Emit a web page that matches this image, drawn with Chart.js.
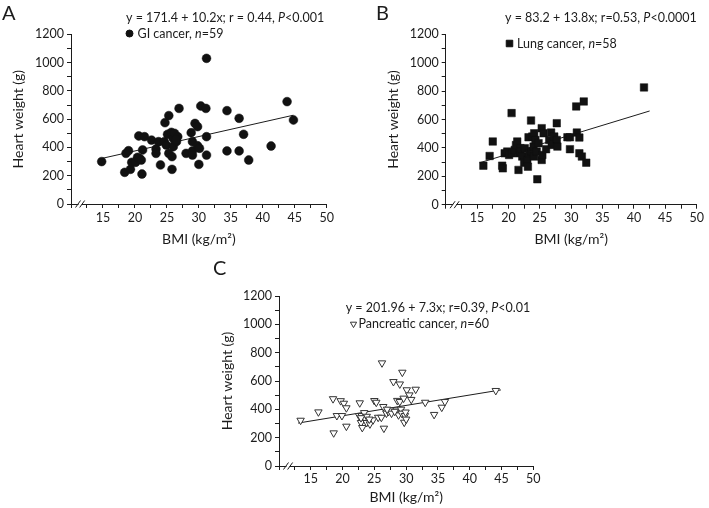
<!DOCTYPE html>
<html><head><meta charset="utf-8">
<script src="https://cdn.jsdelivr.net/npm/chart.js@4.4.0/dist/chart.umd.min.js"></script>
<style>
html,body{margin:0;padding:0;background:#fff;}
body{width:709px;height:508px;position:relative;overflow:hidden;}
canvas{position:absolute;}
</style></head><body>
<canvas id="cA" width="354" height="250" style="left:0;top:0"></canvas>
<canvas id="cB" width="355" height="250" style="left:354px;top:0"></canvas>
<canvas id="cC" width="360" height="258" style="left:200px;top:250px"></canvas>
<script>
// ---------- data (BMI in kg/m2, heart weight in g) ----------
const giBMI = [14.8,18.4,18.6,19.0,19.3,19.5,20.1,20.4,20.7,21.0,21.1,21.2,20.6,21.5,22.6,23.3,23.3,23.7,24.0,24.6,24.7,24.9,25.1,25.3,25.3,25.7,25.8,25.8,26.0,26.0,26.2,26.5,26.7,26.4,26.9,28.0,28.8,29.0,29.0,29.0,29.4,29.8,29.8,30.1,30.0,30.3,31.1,31.2,31.2,31.2,34.4,34.4,36.3,36.3,37.0,37.8,41.3,43.8,44.8];
const giHW  = [300,224,358,377,245,295,295,330,322,311,212,382,481,476,452,389,358,441,276,441,575,417,493,625,358,507,335,245,405,464,500,441,476,455,676,358,504,441,375,346,570,547,412,394,280,693,676,1030,476,346,660,375,606,375,493,311,410,724,594];
const giFitX = [14.8,44.8];
const giFitY = [322,628];

const lungBMI = [16.0,17.0,17.5,19.0,19.1,19.4,19.8,20.5,20.1,20.6,21.0,21.2,21.4,21.6,21.8,21.9,22.0,22.2,22.5,22.6,23.0,23.1,23.3,23.2,23.6,23.7,23.8,24.0,24.1,24.1,24.3,24.5,24.6,24.8,25.3,25.3,25.4,25.6,26.0,26.5,26.8,26.9,27.1,27.3,27.7,27.7,27.8,29.4,29.8,29.8,30.8,30.9,31.3,31.3,31.7,32.0,32.4,41.6];
const lungHW  = [275,343,445,275,256,362,374,645,350,362,386,420,445,245,362,398,375,339,296,398,315,268,362,475,593,374,480,409,503,339,455,374,179,433,539,315,350,503,391,456,508,421,438,480,574,456,409,475,475,391,692,508,473,362,339,727,296,826];
const lungFitX = [15.4,42.5];
const lungFitY = [295,660];

const pancBMI = [13.4,16.2,18.5,18.6,19.1,19.9,19.7,20.2,20.6,20.6,22.7,22.6,23.0,23.1,22.9,23.1,23.4,23.5,23.8,24.3,24.8,25.0,25.3,25.6,26.1,26.2,26.4,26.5,26.9,27.2,27.6,27.7,28.0,28.5,28.6,28.8,29.0,29.0,29.2,29.3,29.4,29.6,29.8,29.7,30.1,30.5,30.8,31.5,33.0,34.4,35.6,36.1,44.1,23.8,24.2,27.0,28.2,29.9,22.9,30.0];
const pancHW  = [322,381,474,233,355,355,460,442,410,280,445,355,355,325,306,271,376,336,306,296,325,461,449,343,343,727,419,266,372,384,395,372,595,395,462,360,578,454,400,372,661,478,355,308,537,501,469,541,449,363,414,454,532,350,330,400,385,380,340,330];
const pancFitX = [13.0,44.9];
const pancFitY = [303,537];

const xTickStep = 2.5, xMin = 10, xMax = 50;
const yTickStep = 100, yMin = 0, yMax = 1200;
const xTitle = 'BMI (kg/m²)';
const yTitle = 'Heart weight (g)';

// ---------- helpers ----------
const FONT = 'Lato, "Open Sans", sans-serif';
const INK = '#1c1c1c';
function pts(xs, ys){ return xs.map((x,i)=>({x:x, y:ys[i]})); }

function drawParts(ctx, parts, x, y, size){
  let cx = x;
  parts.forEach(p=>{
    ctx.font = (p.i ? 'italic ' : '') + size + 'px ' + FONT;
    ctx.fillText(p.t, cx, y);
    cx += ctx.measureText(p.t).width;
  });
}

function makePanel(id, cfg){
  const deco = {
    id: 'deco',
    afterDraw(chart){
      const ctx = chart.ctx;
      const xs = chart.scales.x, ys = chart.scales.y;
      ctx.save();
      // axis break marks
      const yb = ys.getPixelForValue(0);
      const a = xs.getPixelForValue(11.1), b = xs.getPixelForValue(11.75);
      ctx.fillStyle = '#fff';
      ctx.fillRect(a+0.5, yb-2, b-a-1, 4);
      ctx.strokeStyle = INK; ctx.lineWidth = 1;
      [a,b].forEach(px=>{ ctx.beginPath(); ctx.moveTo(px-2.5, yb+3.5); ctx.lineTo(px+2.5, yb-3.5); ctx.stroke(); });
      // panel letter
      ctx.fillStyle = INK; ctx.textBaseline = 'middle'; ctx.textAlign = 'left';
      ctx.font = '20px ' + FONT;
      ctx.fillText(cfg.letter, cfg.letterX, cfg.letterY);
      // equation
      drawParts(ctx, cfg.eq, cfg.eqX, cfg.eqY, cfg.txtSize);
      // legend marker
      ctx.fillStyle = cfg.fill; ctx.strokeStyle = cfg.stroke; ctx.lineWidth = 1;
      Chart.helpers.drawPoint(ctx, {pointStyle: cfg.style, radius: cfg.legR, rotation: cfg.rot, borderWidth: 1}, cfg.legMX, cfg.legY);
      // legend text
      ctx.fillStyle = INK;
      drawParts(ctx, cfg.leg, cfg.legTX, cfg.legY, cfg.txtSize);
      ctx.restore();
    }
  };

  return new Chart(document.getElementById(id), {
    type: 'scatter',
    data: { datasets: [
      { data: pts(cfg.bx, cfg.hw), pointStyle: cfg.style, pointRadius: cfg.r, pointRotation: cfg.rot,
        backgroundColor: cfg.fill, borderColor: cfg.stroke, borderWidth: cfg.hollow ? 1 : 0.5, showLine:false },
      { type:'line', data: pts(cfg.fx, cfg.fy), borderColor: INK, borderWidth: 1, pointRadius: 0, fill:false, showLine:true }
    ]},
    options: {
      responsive: false, animation: false, devicePixelRatio: 1,
      layout: { padding: cfg.pad },
      plugins: { legend: {display:false}, tooltip: {enabled:false} },
      scales: {
        x: { type:'linear', min:xMin, max:xMax,
             afterFit: s=>{ s.height = cfg.xH; },
             border: {color: INK, width: 1},
             grid: {drawOnChartArea:false, drawTicks:true, tickLength:4, color: INK},
             ticks: {stepSize: xTickStep, autoSkip:false, maxRotation:0, color: INK, padding: cfg.xTP,
                     font:{family:FONT, size:12.5},
                     callback: v => (v>=15 && Math.abs(v%5)<1e-9) ? String(v) : ''},
             title: {display:true, text:xTitle, color: INK, font:{family:FONT, size:14}, padding:{top:0,bottom:cfg.xPB}} },
        y: { type:'linear', min:yMin, max:yMax,
             afterFit: s=>{ s.width = cfg.yW; },
             border: {color: INK, width: 1},
             grid: {drawOnChartArea:false, drawTicks:true, tickLength:4, color: INK},
             ticks: {stepSize: yTickStep, autoSkip:false, color: INK, padding: 3,
                     font:{family:FONT, size:12.5},
                     callback: v => (Math.abs(v%200)<1e-9) ? String(v) : ''},
             title: {display:true, text:yTitle, color: INK, font:{family:FONT, size:14}, padding:{top:9.6,bottom:0}} }
      }
    },
    plugins: [deco]
  });
}

makePanel('cA', {
  bx: giBMI, hw: giHW, fx: giFitX, fy: giFitY,
  style:'circle', r:4.4, rot:0, fill:'#111', stroke:'#111', hollow:false,
  pad:{left:0, top:34.3, right:27.3, bottom:0}, yW:71, xH:46, xPB:2.3, xTP:2,
  letter:'A', letterX:2, letterY:14,
  eq:[{t:'y = 171.4 + 10.2x; r = 0.44, '},{t:'P',i:true},{t:'<0.001'}], eqX:126, eqY:17.5, txtSize:12.5,
  leg:[{t:'GI cancer, '},{t:'n',i:true},{t:'=59'}], legMX:129.5, legTX:137.5, legY:33.5, legR:3.5
});
makePanel('cB', {
  bx: lungBMI, hw: lungHW, fx: lungFitX, fy: lungFitY,
  style:'rect', r:5.3, rot:0, fill:'#111', stroke:'#111', hollow:false,
  pad:{left:21, top:34.3, right:12.3, bottom:0}, yW:70.7, xH:45.3, xPB:2.3, xTP:2,
  letter:'B', letterX:376-354, letterY:14,
  eq:[{t:'y = 83.2 + 13.8x; r=0.53, '},{t:'P',i:true},{t:'<0.0001'}], eqX:505-354, eqY:17.5, txtSize:12.5,
  leg:[{t:'Lung cancer, '},{t:'n',i:true},{t:'=58'}], legMX:509.5-354, legTX:517-354, legY:43.5, legR:4.6
});
makePanel('cC', {
  bx: pancBMI, hw: pancHW, fx: pancFitX, fy: pancFitY,
  style:'triangle', r:4.3, rot:180, fill:'#fff', stroke:'#333', hollow:true,
  pad:{left:9.9, top:46, right:26.7, bottom:0}, yW:69.1, xH:42, xPB:2.6, xTP:1,
  letter:'C', letterX:213-200, letterY:269-250,
  eq:[{t:'y = 201.96 + 7.3x; r=0.39, '},{t:'P',i:true},{t:'<0.01'}], eqX:345.7-200, eqY:307.5-250, txtSize:12.5,
  leg:[{t:'Pancreatic cancer, '},{t:'n',i:true},{t:'=60'}], legMX:353.5-200, legTX:358.5-200, legY:324-250, legR:3.6
});
</script>
</body></html>
